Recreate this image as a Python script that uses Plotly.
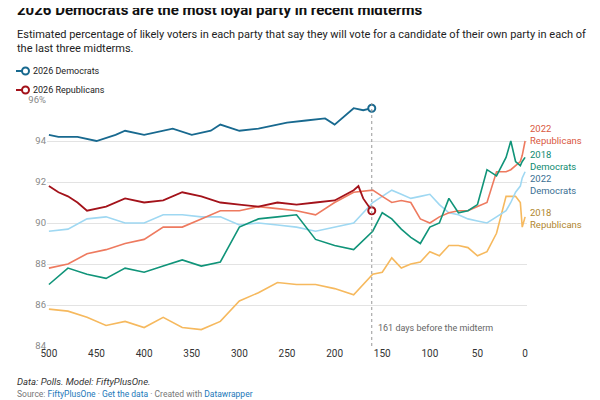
import plotly.graph_objects as go

d26_x = [500,490,470,450,430,420,400,380,370,350,330,320,300,280,260,250,230,210,200,190,180,170,161]
d26_y = [94.3,94.2,94.2,94.0,94.3,94.5,94.3,94.5,94.6,94.3,94.5,94.8,94.5,94.6,94.8,94.9,95.0,95.1,94.8,95.2,95.6,95.5,95.6]
r26_x = [500,490,480,470,460,440,420,400,380,360,340,320,300,280,260,240,220,200,180,175,170,161]
r26_y = [91.8,91.5,91.3,91.0,90.6,90.8,91.2,91.0,91.1,91.5,91.3,91.0,90.9,90.8,91.0,90.9,91.0,91.1,91.6,91.8,91.2,90.6]

xs = [500,480,460,440,420,400,380,360,340,320,300,280,260,240,220,200,180,160,150,140,130,120,110,100,90,80,70,60,50,40,30,20,15,10,5,3,0]
d22 = [89.6,89.7,90.2,90.3,90.0,90.0,90.4,90.4,90.3,90.3,89.9,90.0,89.9,89.8,89.6,89.8,90.0,91.0,91.3,91.6,91.4,91.2,91.3,91.4,90.9,90.5,90.4,90.2,90.1,90.0,90.3,90.6,91.0,91.5,91.8,92.2,92.5]
r22 = [87.8,88.0,88.5,88.7,89.0,89.2,89.8,89.8,90.2,90.6,90.6,90.8,90.7,90.6,90.4,91.0,91.5,91.6,91.3,91.0,91.1,91.0,90.2,90.0,90.3,90.5,90.6,90.6,90.8,91.0,92.5,92.5,92.6,92.8,93.0,93.3,94.0]
d18 = [87.0,87.8,87.5,87.3,87.8,87.6,87.9,88.2,87.9,88.1,89.8,90.2,90.3,90.4,89.2,88.9,88.7,89.6,90.5,90.2,89.7,89.3,89.0,89.8,90.0,91.2,90.5,90.6,90.9,92.6,92.3,93.2,94.0,93.0,92.8,93.0,93.2]
r18 = [85.8,85.7,85.4,85.0,85.2,84.9,85.4,84.9,84.8,85.2,86.2,86.6,87.1,87.0,87.0,86.8,86.5,87.5,87.6,88.3,87.8,88.0,88.1,88.6,88.4,88.9,88.9,88.8,88.4,88.6,89.5,91.3,91.3,91.3,91.0,89.8,90.3]

C_D26, C_R26 = "#18698f", "#a3121a"
C_D22, C_R22, C_D18, C_R18 = "#9fd8f2", "#ee7a5f", "#109479", "#f6b95e"

OFF = 8  # page body margin
W, H = 600 - OFF, 400 - OFF
L, R, T, B = 47 - OFF, 73, 100 - OFF, 54
PW, PH = W - L - R, H - T - B
def px(x): return (x - OFF - L) / PW
def py(y): return (H - B - (y - OFF)) / PH

fig = go.Figure()
for y, c in [(r18, C_R18), (d22, C_D22), (r22, C_R22), (d18, C_D18)]:
    fig.add_trace(go.Scatter(x=xs, y=y, mode="lines", line=dict(color=c, width=1.6), showlegend=False, hoverinfo="skip"))
fig.add_trace(go.Scatter(x=r26_x, y=r26_y, mode="lines", line=dict(color=C_R26, width=1.8), showlegend=False))
fig.add_trace(go.Scatter(x=d26_x, y=d26_y, mode="lines", line=dict(color=C_D26, width=1.8), showlegend=False))
fig.add_trace(go.Scatter(x=[r26_x[-1]], y=[r26_y[-1]], mode="markers", marker=dict(color="white", size=7, line=dict(color=C_R26, width=2)), showlegend=False))
fig.add_trace(go.Scatter(x=[d26_x[-1]], y=[d26_y[-1]], mode="markers", marker=dict(color="white", size=7, line=dict(color=C_D26, width=2)), showlegend=False))

fig.add_shape(type="line", x0=161, x1=161, y0=84, y1=96, line=dict(color="#999", width=1, dash="dot"))

def ann(x, y, text, size=11.5, color="#222", xref="paper", yref="paper", xanchor="left", yanchor="middle"):
    fig.add_annotation(x=x, y=y, xref=xref, yref=yref, text=text, showarrow=False, xanchor=xanchor, yanchor=yanchor,
                       align="left", font=dict(size=size, color=color, family="Roboto"))

ann(px(15), py(10), "<b>2026 Democrats are the most loyal party in recent midterms</b>", size=15, color="#111")
ann(px(15), py(26), "Estimated percentage of likely voters in each party that say they will vote for a candidate of their own party in each of<br>the last three midterms.", size=11, color="#222", yanchor="top")
ann(px(31), py(71), "2026 Democrats", size=9)
ann(px(31), py(90), "2026 Republicans", size=9)
ann(px(15), py(381), "<i>Data: Polls. Model: FiftyPlusOne.</i>", size=9.5, color="#333")
ann(px(15), py(394), "Source: <span style='color:#1b78b9'>FiftyPlusOne</span> · <span style='color:#1b78b9'>Get the data</span> · Created with <span style='color:#1b78b9'>Datawrapper</span>", size=8.5, color="#777")
for txt, yv, c in [("2022<br>Republicans", 94.34, "#d9583e"), ("2018<br>Democrats", 93.07, "#0d8a70"), ("2022<br>Democrats", 91.9, "#3a6f93"), ("2018<br>Republicans", 90.24, "#b0862e")]:
    ann(px(528), yv, txt, size=9.5, color=c, yref="y")
ann(px(376), 84.9, "161 days before the midterm", size=9, color="#666", yref="y")

for yy, c in [(71, C_D26), (90, C_R26)]:
    fig.add_shape(type="line", xref="paper", yref="paper", x0=px(16), x1=px(23), y0=py(yy), y1=py(yy), line=dict(color=c, width=2))
    fig.add_shape(type="circle", xref="paper", yref="paper", x0=px(22), x1=px(29), y0=py(yy + 3.5), y1=py(yy - 3.5), line=dict(color=c, width=2), fillcolor="white")

fig.update_layout(
    width=W, height=H, paper_bgcolor="white", plot_bgcolor="white",
    margin=dict(l=L, r=R, t=T, b=B),
    font=dict(family="Roboto", color="#333"),
    xaxis=dict(range=[502, -2], tickvals=[500,450,400,350,300,250,200,150,100,50,0], showgrid=False, zeroline=False,
               ticks="", tickfont=dict(size=10, color="#333"), automargin=False),
    yaxis=dict(range=[84, 96], tickvals=[84,86,88,90,92,94,96], ticktext=["84","86","88","90","92","94","96%"],
               gridcolor="#e3e3e3", zeroline=False, tickfont=dict(size=9.5, color="#888"), ticks="", automargin=False),
)
fig.write_html("out.html")
